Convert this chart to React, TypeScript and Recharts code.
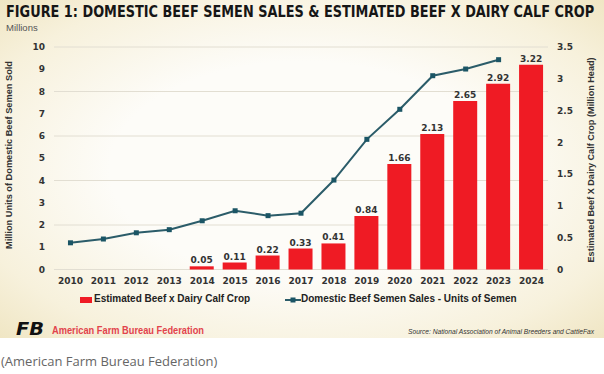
import React from "react";
import {
  Bar,
  CartesianGrid,
  ComposedChart,
  LabelList,
  Legend,
  Line,
  XAxis,
  YAxis,
} from "recharts";

const YEARS = [
  "2010", "2011", "2012", "2013", "2014", "2015", "2016", "2017",
  "2018", "2019", "2020", "2021", "2022", "2023", "2024",
];

// million head (right axis)
const CALF_CROP: (number | null)[] = [
  null, null, null, null, 0.05, 0.11, 0.22, 0.33, 0.41, 0.84, 1.66, 2.13, 2.65, 2.92, 3.22,
];

// million units (left axis)
const SEMEN_SALES: (number | null)[] = [
  1.2, 1.37, 1.65, 1.79, 2.19, 2.64, 2.42, 2.53, 4.02, 5.85, 7.2, 8.71, 9.01, 9.43, null,
];

const LEFT_TICKS = [0, 1, 2, 3, 4, 5, 6, 7, 8, 9, 10];
const RIGHT_TICKS = [0, 0.5, 1, 1.5, 2, 2.5, 3, 3.5];

const data = YEARS.map((year, i) => ({
  year,
  calves: CALF_CROP[i],
  semen: SEMEN_SALES[i],
}));

const RED = "#ef1b24";
const TEAL = "#2b5c69";
const TICK = {
  fontSize: 9,
  fontWeight: 700,
  fill: "#333",
  fontFamily: "DejaVu Sans",
};

function SquareDot(props: any) {
  const { cx, cy } = props;
  if (cx == null || cy == null) return null;
  return <rect x={cx - 2.5} y={cy - 2.5} width={5} height={5} fill="#1b5565" />;
}

function LegendContent() {
  const txt: React.CSSProperties = {
    position: "absolute",
    top: 3,
    fontFamily: "Liberation Sans, Arial, sans-serif",
    fontWeight: 700,
    fontSize: 10,
    color: "#222",
    whiteSpace: "nowrap",
  };
  return (
    <div style={{ position: "relative", width: 604, height: 20 }}>
      <div
        style={{ position: "absolute", left: 80, top: 7, width: 12, height: 6, background: RED }}
      />
      <div style={{ ...txt, left: 94 }}>Estimated Beef x Dairy Calf Crop</div>
      <svg style={{ position: "absolute", left: 285, top: 5 }} width={16} height={10}>
        <line x1={0} y1={5} x2={16} y2={5} stroke={TEAL} strokeWidth={2} />
        <rect x={5.5} y={2.5} width={5} height={5} fill="#1b5565" />
      </svg>
      <div style={{ ...txt, left: 301 }}>Domestic Beef Semen Sales - Units of Semen</div>
    </div>
  );
}

export default function App() {
  return (
    <div
      style={{
        position: "absolute",
        left: 0,
        top: 0,
        width: 604,
        height: 374,
        background: "#ffffff",
        overflow: "hidden",
      }}
    >
      <div
        style={{
          position: "absolute",
          left: 0,
          top: 0,
          width: 604,
          height: 338,
          background:
            "radial-gradient(ellipse at 50% 50%, #fdfcf8 45%, #f7f1dc 80%, #f0e6c4 100%)",
        }}
      />
      <div
        style={{
          position: "absolute",
          left: 6,
          top: 3,
          fontFamily: "DejaVu Sans Condensed, sans-serif",
          fontWeight: 700,
          fontSize: 16,
          lineHeight: "18px",
          color: "#161616",
          whiteSpace: "nowrap",
          transform: "scaleX(0.895)",
          transformOrigin: "0 0",
        }}
      >
        FIGURE 1: DOMESTIC BEEF SEMEN SALES &amp; ESTIMATED BEEF X DAIRY CALF CROP
      </div>
      <div style={{ position: "absolute", left: 0, top: 0 }}>
        <ComposedChart
          width={604}
          height={338}
          data={data}
          margin={{ top: 47, right: 0, bottom: 28.5, left: 0 }}
          barSize={24}
        >
          <CartesianGrid yAxisId="left" vertical={false} stroke="#e2ded2" />
          <XAxis
            dataKey="year"
            tick={TICK}
            tickLine={false}
            axisLine={false}
            tickSize={0}
            tickMargin={8}
            height={20}
            interval={0}
          />
          <YAxis
            yAxisId="left"
            orientation="left"
            domain={[0, 10]}
            ticks={LEFT_TICKS}
            width={54}
            tick={TICK}
            tickLine={false}
            axisLine={false}
            tickSize={0}
            tickMargin={9}
          />
          <YAxis
            yAxisId="right"
            orientation="right"
            domain={[0, 3.5]}
            ticks={RIGHT_TICKS}
            width={56}
            tick={TICK}
            tickLine={false}
            axisLine={false}
            tickSize={0}
            tickMargin={9}
          />
          <Legend verticalAlign="bottom" height={20} content={LegendContent} />
          <Bar yAxisId="right" dataKey="calves" fill={RED} isAnimationActive={false}>
            <LabelList
              dataKey="calves"
              position="top"
              offset={3}
              formatter={(v: any) => (v == null ? "" : Number(v).toFixed(2))}
              style={{ ...TICK, fill: "#333" }}
            />
          </Bar>
          <Line
            yAxisId="left"
            dataKey="semen"
            stroke={TEAL}
            strokeWidth={2}
            dot={<SquareDot />}
            activeDot={false}
            isAnimationActive={false}
          />
        </ComposedChart>
      </div>
      <svg
        style={{ position: "absolute", left: 0, top: 0, pointerEvents: "none" }}
        width={604}
        height={374}
      >
        <text x={6} y={31} fontFamily="Liberation Sans, Arial" fontSize={9.5} fill="#555">
          Millions
        </text>
        <text
          transform="translate(12,155) rotate(-90)"
          textAnchor="middle"
          fontFamily="Liberation Sans, Arial"
          fontWeight={700}
          fontSize={8.5}
          fill="#333"
          textLength={188}
          lengthAdjust="spacingAndGlyphs"
        >
          Million Units of Domestic Beef Semen Sold
        </text>
        <text
          transform="translate(594,160) rotate(-90)"
          textAnchor="middle"
          fontFamily="Liberation Sans, Arial"
          fontWeight={700}
          fontSize={8.5}
          fill="#333"
          textLength={205}
          lengthAdjust="spacingAndGlyphs"
        >
          Estimated Beef X Dairy Calf Crop (Million Head)
        </text>
        <text
          x={16}
          y={335}
          fontFamily="DejaVu Sans, sans-serif"
          fontWeight={900}
          fontStyle="italic"
          fontSize={17}
          fill="#111"
          textLength={28}
          lengthAdjust="spacingAndGlyphs"
        >
          FB
        </text>
        <text
          x={52}
          y={334}
          fontFamily="Liberation Sans, Arial"
          fontWeight={700}
          fontSize={10}
          fill="#e2434c"
          textLength={152}
          lengthAdjust="spacingAndGlyphs"
        >
          American Farm Bureau Federation
        </text>
        <text
          x={408}
          y={334}
          fontFamily="Liberation Sans, Arial"
          fontStyle="italic"
          fontSize={6.5}
          fill="#333"
          textLength={186}
          lengthAdjust="spacingAndGlyphs"
        >
          Source: National Association of Animal Breeders and CattleFax
        </text>
        <text
          x={1}
          y={366}
          fontFamily="Open Sans, sans-serif"
          fontSize={13}
          fill="#666"
        >
          (American Farm Bureau Federation)
        </text>
      </svg>
    </div>
  );
}
